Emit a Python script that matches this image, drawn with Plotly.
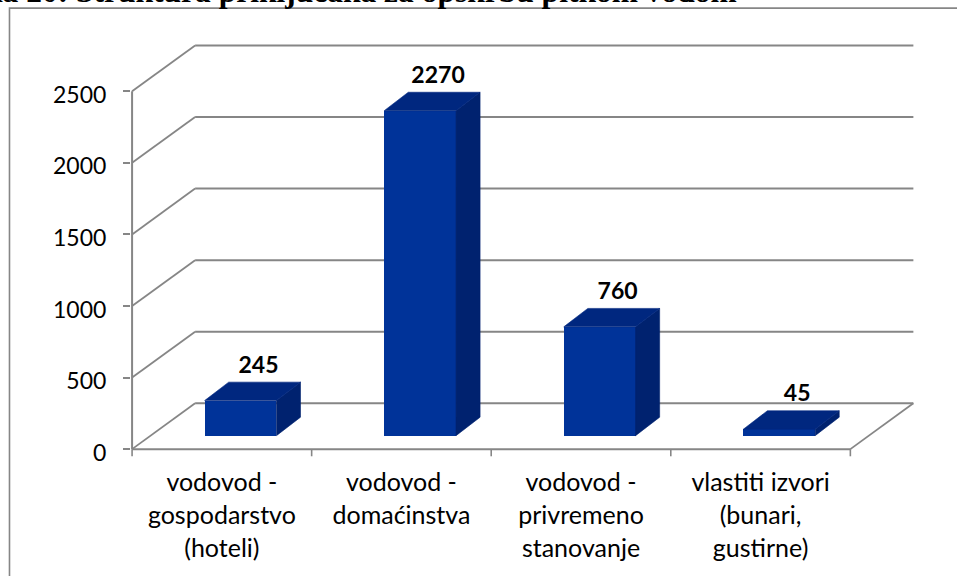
import plotly.graph_objects as go

categories = ["vodovod -<br>gospodarstvo<br>(hoteli)", "vodovod -<br>domaćinstva",
              "vodovod -<br>privremeno<br>stanovanje", "vlastiti izvori<br>(bunari,<br>gustirne)"]
values = [245, 2270, 760, 45]
y_ticks = [0, 500, 1000, 1500, 2000, 2500]
title_text = "Slika 20: Struktura priključaka za opskrbu pitkom vodom"

FRONT = "#003399"
SIDE = "#00226F"
TOP = "#00277F"
GRAY = "#868686"
FONT = "Lato"
LABEL_SIZE = 23
CAT_SIZE = 25

# pseudo-3D geometry in data units
WALL_DX, WALL_DY = 0.351, 320
BAR_SHIFT, BAR_W, BAR_BASE = 0.104, 0.40, 94
BAR_DX, BAR_DY = 0.134, 129
X_MIN, X_MAX, Y_MIN, Y_MAX = -0.506, 3.86, -55, 2830
L, R, T, B = 131.4, 42.3, 44.3, 119.1
W, H = 957, 576
LEFT, RIGHT = -0.5, 3.5


def paper_x(px):
    return (px - L) / (W - L - R)


def paper_y(px):
    return 1 - (px - T) / (H - T - B)


shapes = []


def seg(x0, y0, x1, y1, width=1.8):
    shapes.append(dict(type="line", xref="x", yref="y", x0=x0, y0=y0, x1=x1, y1=y1,
                       layer="below", line=dict(color=GRAY, width=width)))


# walls: left side diagonals and back wall lines, from the tick values
for v in y_ticks:
    seg(LEFT, v, LEFT + WALL_DX, v + WALL_DY)
    seg(LEFT + WALL_DX, v + WALL_DY, RIGHT + WALL_DX, v + WALL_DY, 2)
# floor and axes
seg(LEFT, 0, LEFT, y_ticks[-1], 2)
seg(LEFT, 0, RIGHT, 0, 2)
seg(RIGHT, 0, RIGHT + WALL_DX, WALL_DY)
for i in range(len(categories) + 1):
    seg(LEFT + i, 0, LEFT + i, -50, 1.6)

# outer chart frame
shapes.append(dict(type="path", xref="paper", yref="paper",
                   path=f"M {paper_x(10)} {paper_y(580)} L {paper_x(10)} {paper_y(8.5)} L {paper_x(960)} {paper_y(8.5)}",
                   line=dict(color=GRAY, width=1.6)))

fig = go.Figure()

xs = [i + BAR_SHIFT for i in range(len(values))]
fig.add_trace(go.Bar(x=xs, y=values, base=BAR_BASE, width=BAR_W,
                     marker=dict(color=FRONT, line=dict(width=0)), hoverinfo="skip",
                     showlegend=False))

for x, v in zip(xs, values):
    x0, x1 = x - BAR_W / 2, x + BAR_W / 2
    low, high = BAR_BASE, BAR_BASE + v
    fig.add_trace(go.Scatter(
        x=[x1, x1 + BAR_DX, x1 + BAR_DX, x1, x1],
        y=[low, low + BAR_DY, high + BAR_DY, high, low],
        mode="lines", fill="toself", fillcolor=SIDE, line=dict(width=0.6, color=SIDE),
        hoverinfo="skip", showlegend=False))
    fig.add_trace(go.Scatter(
        x=[x0, x0 + BAR_DX, x1 + BAR_DX, x1, x0],
        y=[high, high + BAR_DY, high + BAR_DY, high, high],
        mode="lines", fill="toself", fillcolor=TOP, line=dict(width=0.6, color=TOP),
        hoverinfo="skip", showlegend=False))

fig.add_trace(go.Scatter(
    x=[x + 0.1 for x in xs], y=[BAR_BASE + v + 235 for v in values],
    text=[str(v) for v in values], mode="text", textposition="middle center",
    textfont=dict(family=FONT, size=LABEL_SIZE, color="black", weight="bold"),
    hoverinfo="skip", showlegend=False, cliponaxis=False))


def sized(label, size):
    return "<br>".join(f'<span style="font-size:{size}px">{part}</span>' for part in label.split("<br>"))


fig.update_layout(
    width=W, height=H, autosize=False,
    margin=dict(l=L, r=R, t=T, b=B, pad=0),
    paper_bgcolor="white", plot_bgcolor="rgba(0,0,0,0)",
    showlegend=False, bargap=0,
    shapes=shapes,
    xaxis=dict(range=[X_MIN, X_MAX], tickmode="array", tickvals=list(range(len(categories))),
               ticktext=[sized(c, CAT_SIZE) for c in categories],
               tickfont=dict(family=FONT, size=25.4, color="black"), ticks="", showgrid=False,
               zeroline=False, showline=False, tickangle=0, ticklabelstandoff=8),
    yaxis=dict(range=[Y_MIN, Y_MAX], tickmode="array", tickvals=y_ticks,
               ticktext=[sized(str(v), LABEL_SIZE) for v in y_ticks],
               ticks="outside", ticklen=7, tickwidth=1.6, tickcolor=GRAY, showgrid=False,
               zeroline=False, showline=False, ticklabelstandoff=10,
               tickfont=dict(family=FONT, size=33, color="black")),
    annotations=[dict(text=title_text, xref="paper", yref="paper", x=paper_x(-50.5), y=paper_y(10),
                      xanchor="left", yanchor="bottom", showarrow=False, borderpad=0,
                      font=dict(family="Liberation Serif", size=31.5, color="black", weight="bold"))],
)

fig.write_html("out.html", post_script="document.body.style.margin='0';", config=dict(displayModeBar=False))
